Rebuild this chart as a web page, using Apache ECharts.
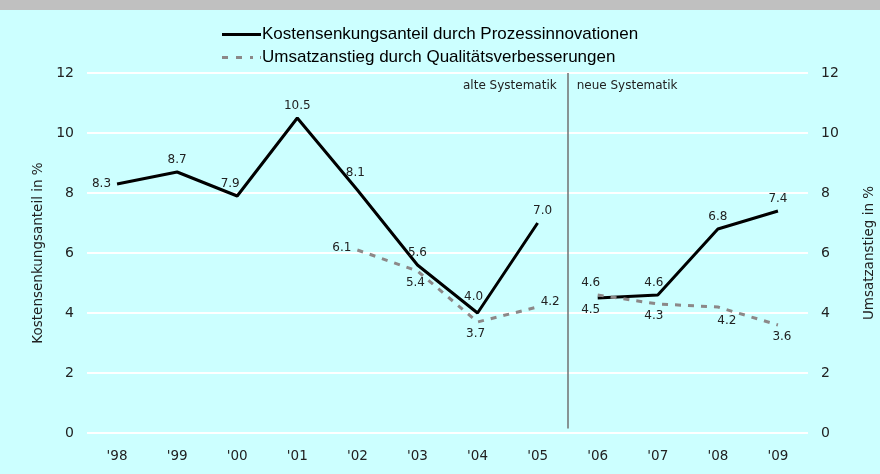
<!DOCTYPE html>
<html>
<head>
<meta charset="utf-8">
<script src="https://cdn.jsdelivr.net/npm/echarts@6/dist/echarts.min.js"></script>
<style>
  html, body { margin: 0; padding: 0; background: #ccffff; }
  #top { height: 10px; background: #c0c0c0; }
  #chart { width: 880px; height: 464px; }
</style>
</head>
<body>
<div id="top"></div>
<div id="chart"></div>
<script>
const years = ["'98", "'99", "'00", "'01", "'02", "'03", "'04", "'05", "'06", "'07", "'08", "'09"]
const costOld = [8.3, 8.7, 7.9, 10.5, 8.1, 5.6, 4.0, 7.0, null, null, null, null]
const costNew = [null, null, null, null, null, null, null, null, 4.5, 4.6, 6.8, 7.4]
const salesOld = [null, null, null, null, 6.1, 5.4, 3.7, 4.2, null, null, null, null]
const salesNew = [null, null, null, null, null, null, null, null, 4.6, 4.3, 4.2, 3.6]

const costName = 'Kostensenkungsanteil durch Prozessinnovationen'
const salesName = 'Umsatzanstieg durch Qualitätsverbesserungen'

// label placement per point
const costLabelPos = ['left', 'top', 'top', 'top', 'top', 'top', 'top', 'top', 'bottom', 'top', 'top', 'top']
const costLabelOff = [[0, 0], [0, 0], [-7, 0], [0, 0], [-2, -5], [0, 0], [-4, -4], [5, 0], [-7, 0], [-4, 0], [0, 0], [0, 0]]
const salesLabelPos = [null, null, null, null, 'left', 'bottom', 'bottom', 'right', 'top', 'bottom', 'bottom', 'bottom']
const salesLabelOff = [null, null, null, null, [0, -2], [-2, 0], [-2, 0], [-3, -5], [-7, 0], [-4, 0], [9, 2], [4, 0]]

const labelFont = { show: true, fontFamily: 'DejaVu Sans', fontSize: 12, color: '#222' }

function points(values, pos, off) {
  return values.map((v, i) => v == null ? null : {
    value: v,
    label: { position: pos[i], offset: off[i], distance: 6, formatter: (p) => p.value.toFixed(1) }
  })
}

const chart = echarts.init(document.getElementById('chart'))

const lineBlack = { color: '#000', width: 3 }
const lineGrey = { color: '#8c8888', width: 3, type: [6, 7] }

const seriesBase = { type: 'line', showSymbol: true, symbol: 'circle', symbolSize: 0, label: labelFont }

chart.setOption({
  backgroundColor: '#ccffff',
  animation: false,
  legend: {
    orient: 'vertical',
    left: 217,
    top: 11,
    itemWidth: 39,
    itemHeight: 3,
    itemGap: 6,
    textStyle: { fontFamily: 'Liberation Sans', fontSize: 17, color: '#000', padding: [0, 0, 0, -4] },
    data: [
      { name: costName, icon: 'path://M0,0H39V3H0Z' },
      { name: salesName, icon: 'path://M0,0H6V3H0ZM14,0H20V3H14ZM28,0H31V3H28ZM38,0H39V3H38Z' }
    ]
  },
  grid: { left: 87, right: 72, top: 63, bottom: 41, outerBoundsMode: 'none' },
  xAxis: [{
    type: 'category',
    data: years,
    axisLine: { show: false },
    axisTick: { show: false },
    axisLabel: { fontFamily: 'DejaVu Sans', fontSize: 13.5, color: '#222', margin: 16 }
  }, {
    type: 'value', min: -0.5, max: 11.5, show: false
  }],
  yAxis: [{
    type: 'value', min: 0, max: 12, interval: 2,
    name: 'Kostensenkungsanteil in %',
    nameLocation: 'middle', nameGap: 41, nameRotate: 90,
    nameTextStyle: { fontFamily: 'DejaVu Sans', fontSize: 13.5, color: '#222' },
    axisLine: { show: false },
    axisTick: { show: false },
    axisLabel: { fontFamily: 'DejaVu Sans', fontSize: 14, color: '#222', margin: 13 },
    splitLine: { lineStyle: { color: '#ffffff', width: 2 } }
  }, {
    type: 'value', min: 0, max: 12, interval: 2, position: 'right',
    name: 'Umsatzanstieg in %',
    nameLocation: 'middle', nameGap: 54, nameRotate: 90,
    nameTextStyle: { fontFamily: 'DejaVu Sans', fontSize: 13.5, color: '#222' },
    axisLine: { show: false },
    axisTick: { show: false },
    axisLabel: { fontFamily: 'DejaVu Sans', fontSize: 14, color: '#222', margin: 13, align: 'left' },
    splitLine: { show: false }
  }],
  series: [
    { ...seriesBase, name: costName, data: points(costOld, costLabelPos, costLabelOff), lineStyle: lineBlack, itemStyle: { color: '#000' } },
    { ...seriesBase, name: costName, data: points(costNew, costLabelPos, costLabelOff), lineStyle: lineBlack, itemStyle: { color: '#000' } },
    { ...seriesBase, name: salesName, yAxisIndex: 1, data: points(salesOld, salesLabelPos, salesLabelOff), lineStyle: lineGrey, itemStyle: { color: '#8c8888' } },
    { ...seriesBase, name: salesName, yAxisIndex: 1, data: points(salesNew, salesLabelPos, salesLabelOff), lineStyle: lineGrey, itemStyle: { color: '#8c8888' } },
    {
      // separator between old and new methodology
      type: 'line', xAxisIndex: 1, data: [], symbol: 'none',
      markLine: {
        silent: true, symbol: 'none', label: { show: false },
        lineStyle: { color: '#707070', width: 1.5, type: 'solid' },
        data: [[{ coord: [7.5, 0.15] }, { coord: [7.5, 12] }]]
      }
    }
  ]
})

// texts either side of the separator
const sepTop = chart.convertToPixel({ xAxisIndex: 1, yAxisIndex: 0 }, [7.5, 12])
chart.setOption({
  graphic: [
    { type: 'text', x: sepTop[0] - 11, y: sepTop[1] + 13, style: { text: 'alte Systematik', align: 'right', verticalAlign: 'middle', font: '12px "DejaVu Sans"', fill: '#222' } },
    { type: 'text', x: sepTop[0] + 9, y: sepTop[1] + 13, style: { text: 'neue Systematik', align: 'left', verticalAlign: 'middle', font: '12px "DejaVu Sans"', fill: '#222' } }
  ]
})
</script>
</body>
</html>
